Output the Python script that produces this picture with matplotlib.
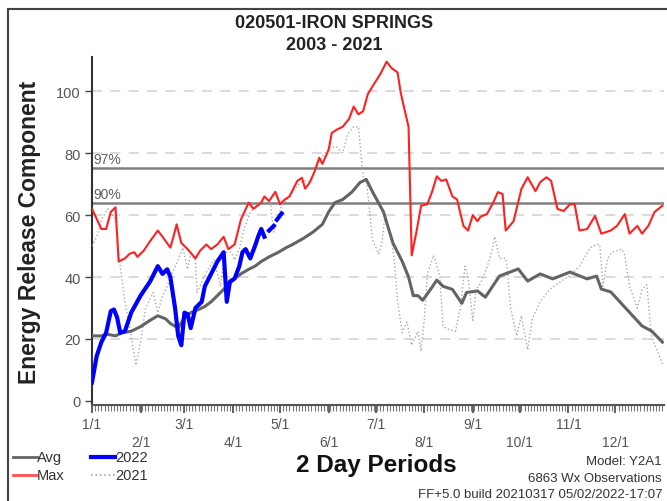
import numpy as np
import matplotlib
matplotlib.use("Agg")
import matplotlib.pyplot as plt
from matplotlib.lines import Line2D

plt.rcParams['font.family'] = ['Liberation Sans', 'DejaVu Sans']

# day-of-year positions and ERC values
max_days = [0, 6, 9, 12, 15, 17, 21, 24, 27, 29, 33, 37, 42, 45, 50, 52, 54, 57, 61, 66,
            69, 73, 76, 80, 84, 87, 91, 95, 100, 103, 108, 110, 113, 117, 120, 123, 126,
            131, 134, 136, 139, 142, 145, 147, 151, 153, 156, 160, 164, 167, 170, 173, 176,
            179, 184, 188, 191, 195, 197, 199, 202, 204, 207, 210, 214, 217, 220, 223, 226,
            230, 233, 237, 240, 243, 246, 248, 252, 256, 259, 262, 264, 269, 274, 278, 283,
            286, 290, 293, 297, 301, 305, 308, 311, 316, 321, 325, 331, 335, 340, 343, 348,
            351, 355, 359, 364]
max_vals = [62, 55.5, 55.5, 61, 62.5, 45, 46, 47.5, 48, 46.5, 48.5, 51.5, 55, 53, 49.5, 53,
            57, 51, 49, 46, 48.5, 50.5, 49, 50.5, 53, 49, 50.5, 58.5, 64, 62, 64, 66, 64.5,
            67.5, 63.5, 65, 66, 71, 72, 68.5, 70.5, 74, 78.5, 76.5, 81, 86.5, 87.5, 88.5, 91,
            95, 92.5, 93.5, 99, 101.5, 105.5, 109.5, 107.5, 106, 99.5, 95, 88.5, 47, 54.5,
            63, 63.5, 67.5, 72.5, 71, 71.5, 66, 65, 56.5, 55, 60, 58, 59.5, 60.3, 64, 67.4,
            66.8, 55, 58, 68.4, 72.2, 67.7, 70.6, 72.2, 71, 62, 61.3, 63.5, 63.5, 55, 55.5,
            59.7, 54, 55, 56.5, 60.3, 54, 56.5, 54, 56.5, 61, 63]

avg_days = [0, 6, 10, 15, 19, 25, 31, 37, 42, 47, 50, 55, 59, 63, 68, 72, 76, 82, 87, 91,
            95, 100, 104, 108, 113, 119, 124, 128, 135, 141, 147, 151, 155, 160, 166, 171,
            175, 179, 186, 192, 198, 202, 205, 208, 211, 216, 220, 224, 230, 236, 239, 246,
            251, 260, 272, 278, 286, 294, 305, 316, 322, 325, 331, 341, 351, 357, 364]
avg_vals = [21, 21, 21.5, 21, 22, 22.5, 24, 26, 27.5, 26.5, 25, 23.5, 27, 28.5, 29.5, 30.5,
            32, 35, 37.5, 39.5, 41, 42.5, 43.5, 45, 46.5, 48, 49.5, 50.5, 52.5, 54.5, 57,
            61, 64, 65, 67.5, 70.5, 71.5, 67.5, 61, 51, 45, 40, 34, 34, 32.5, 36, 39, 37,
            36, 31.5, 35, 35.5, 33.5, 40.3, 42.6, 38.7, 41, 39.4, 41.6, 39.4, 40.3, 36.1,
            35.2, 29.7, 24.2, 22.6, 19]

y2022_days = [0, 3, 6, 9, 12, 14, 16, 18, 21, 25, 31, 37, 42, 45, 48, 50, 53, 55, 57, 59,
              61, 63, 66, 70, 72, 76, 80, 84, 85, 86, 88, 91, 94, 96, 98, 101, 104, 106,
              108, 110, 111, 113, 116, 117, 118, 121]
y2022_vals = [6, 14.5, 19, 22, 29, 29.5, 27, 22, 22.5, 28.5, 34, 38.5, 43.5, 41, 42.5, 40,
              30, 21, 18, 28.5, 28, 23.5, 30, 32, 37, 41, 45, 48, 40, 32, 38.5, 39.5, 43.5,
              48, 49, 46, 50, 53, 55.5, 53, np.nan, 55, 56.5, np.nan, 58.5, 60.5]

y2021_days = [0, 3, 6, 10, 15, 18, 21, 24, 28, 31, 34, 39, 42, 45, 48, 50, 55, 58, 61, 63,
              66, 67, 71, 74, 78, 82, 85, 89, 91, 94, 97, 101, 106, 110, 114, 116, 118, 121,
              123, 126, 131, 135, 139, 143, 147, 152, 156, 160, 163, 167, 170, 173, 175, 177,
              179, 183, 185, 187, 189, 191, 193, 195, 198, 201, 204, 208, 210, 212, 214, 218,
              222, 224, 228, 232, 235, 238, 240, 243, 245, 248, 252, 255, 257, 260, 264, 265,
              267, 271, 274, 278, 281, 286, 292, 299, 305, 311, 318, 322, 324, 326, 329, 332,
              338, 340, 343, 348, 351, 354, 357, 360, 364]
y2021_vals = [50, 53, 58.5, 62, 58.5, 43.5, 32, 24, 11.5, 19, 29.5, 35, 28.5, 34, 37, 40,
              45.5, 49.5, 42.5, 47.5, 45.5, 35, 39.5, 42.5, 45.5, 37, 48, 48, 45.5, 49, 55.5,
              61, 63, 64, 63, 54.5, 58.5, 63, 64, 66, 69.5, 71, 71, 75, 79, 82, 82, 80, 86,
              88.5, 88.5, 72.5, 71.5, 62, 52, 47.5, 51, 60, 55.5, 53, 45, 32, 22, 25.5, 18,
              22.5, 16, 26, 41, 47, 40, 24, 23, 22.5, 30, 43.5, 40, 26, 36, 38, 43, 48, 53,
              46, 46, 42.5, 30.5, 21, 27.5, 16.5, 26.5, 32, 36, 38.5, 40.5, 43.5, 49.5, 50.5,
              50.5, 37, 46, 48, 49, 47, 37, 30, 36, 37.5, 21, 17, 12]

pct97 = 75.2
pct90 = 63.9

month_days = [0, 31, 59, 90, 120, 151, 181, 212, 243, 273, 304, 334]
month_labels = ['1/1', '2/1', '3/1', '4/1', '5/1', '6/1', '7/1', '8/1', '9/1', '10/1',
                '11/1', '12/1']

W, H = 667, 502
fig = plt.figure(figsize=(W / 100, H / 100), dpi=100)
ax = fig.add_axes([92 / W, 1 - 406 / H, (664 - 92) / W, (406 - 58) / H])


def fy(py):
    return 1 - py / H


for g in [20, 40, 60, 80, 100]:
    ax.axhline(g, color='#d4d4d4', lw=1.2, dashes=(6, 5), zorder=1)
for p in [pct97, pct90]:
    ax.axhline(p, color='#808080', lw=1.8, zorder=2)
ax.text(1, pct97 + 0.6, '97%', color='#606060', fontsize=10, va='bottom', ha='left')
ax.text(1, pct90 + 0.6, '90%', color='#606060', fontsize=10, va='bottom', ha='left')

ax.plot(y2021_days, y2021_vals, color='#a8a8a8', lw=1.0, ls=':', zorder=3)
ax.plot(avg_days, avg_vals, color='#646464', lw=2.2, zorder=4)
ax.plot(max_days, max_vals, color='#ff2020', lw=1.5, zorder=5)
ax.plot(y2022_days, y2022_vals, color='#0000ff', lw=3.0, zorder=6)

ax.set_xlim(0, 365)
ax.set_ylim(-1.3, 111)
ax.set_yticks([0, 20, 40, 60, 80, 100])
ax.tick_params(axis='y', length=5, width=1, color='#444444', labelcolor='#555555',
               labelsize=10.5, pad=3)
ax.set_xticks(month_days)
ax.set_xticklabels([l if i % 2 == 0 else '\n' + l for i, l in enumerate(month_labels)])
for lbl in ax.get_xticklabels():
    lbl.set_linespacing(1.3)
ax.set_xticks(np.arange(0, 366, 2), minor=True)
ax.tick_params(axis='x', which='major', length=6, width=1.2, color='#444444',
               labelcolor='#555555', labelsize=10, pad=3)
ax.tick_params(axis='x', which='minor', length=4, width=0.8, color='#777777')
for s in ['top', 'right']:
    ax.spines[s].set_visible(False)
ax.spines['left'].set_color('#333333')
ax.spines['left'].set_linewidth(1.5)
ax.spines['bottom'].set_color('#555555')
ax.spines['bottom'].set_linewidth(1.5)

fig.text(334 / W, fy(23), '020501-IRON SPRINGS', ha='center', va='center',
         fontsize=13, fontweight='bold', color='#222222')
fig.text(334 / W, fy(45), '2003 - 2021', ha='center', va='center',
         fontsize=13, fontweight='bold', color='#222222')
fig.text(30 / W, fy(232), 'Energy Release Component', rotation=90, ha='center',
         va='center', fontsize=16.5, fontweight='bold', color='#222222')
fig.text(376 / W, fy(466), '2 Day Periods', ha='center', va='center',
         fontsize=17.5, fontweight='bold', color='#111111')
fig.text(662 / W, fy(462), 'Model: Y2A1', ha='right', va='center', fontsize=9.5,
         color='#333333')
fig.text(662 / W, fy(479), '6863 Wx Observations', ha='right', va='center',
         fontsize=9.5, color='#333333')
fig.text(662 / W, fy(495), 'FF+5.0 build 20210317 05/02/2022-17:07', ha='right',
         va='center', fontsize=9.5, color='#333333')

# legend drawn by hand, like the original
leg = [('Avg', '#646464', '-', 2.0, 13, 458), ('Max', '#ff5050', '-', 2.0, 13, 476),
       ('2022', '#0000ff', '-', 3.0, 91, 458), ('2021', '#a8a8a8', ':', 1.2, 91, 476)]
for name, c, ls, lw, x0, y0 in leg:
    fig.add_artist(Line2D([x0 / W, (x0 + 24) / W], [fy(y0), fy(y0)], color=c, ls=ls, lw=lw))
    fig.text((x0 + 24) / W, fy(y0), name, ha='left', va='center', fontsize=10.5,
             color='#333333')

# screenshot frame
fig.add_artist(Line2D([8 / W, 1], [fy(10), fy(10)], color='#444444', lw=1.5))
fig.add_artist(Line2D([8 / W, 8 / W], [fy(10), 0], color='#444444', lw=1.5))

fig.savefig('out.png', dpi=100)
